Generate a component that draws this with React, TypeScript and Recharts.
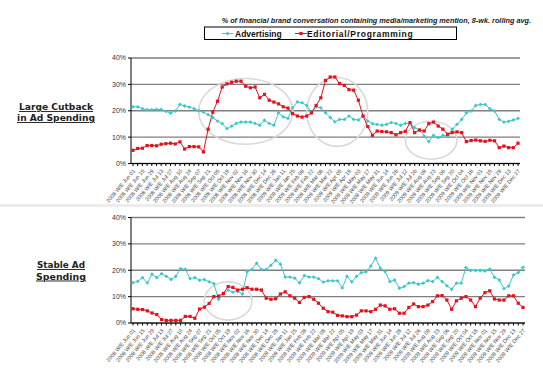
import React from 'react';
import { LineChart, Line, XAxis, YAxis, CartesianGrid, ReferenceArea } from 'recharts';

const weeks: string[] = [
  '2008 W/E Jun 01', '2008 W/E Jun 08', '2008 W/E Jun 15', '2008 W/E Jun 22', '2008 W/E Jun 29',
  '2008 W/E Jul 06', '2008 W/E Jul 13', '2008 W/E Jul 20', '2008 W/E Jul 27',
  '2008 W/E Aug 03', '2008 W/E Aug 10', '2008 W/E Aug 17', '2008 W/E Aug 24', '2008 W/E Aug 31',
  '2008 W/E Sep 07', '2008 W/E Sep 14', '2008 W/E Sep 21', '2008 W/E Sep 28',
  '2008 W/E Oct 05', '2008 W/E Oct 12', '2008 W/E Oct 19', '2008 W/E Oct 26',
  '2008 W/E Nov 02', '2008 W/E Nov 09', '2008 W/E Nov 16', '2008 W/E Nov 23', '2008 W/E Nov 30',
  '2008 W/E Dec 07', '2008 W/E Dec 14', '2008 W/E Dec 21', '2008 W/E Dec 28',
  '2009 W/E Jan 04', '2009 W/E Jan 11', '2009 W/E Jan 18', '2009 W/E Jan 25',
  '2009 W/E Feb 01', '2009 W/E Feb 08', '2009 W/E Feb 15', '2009 W/E Feb 22',
  '2009 W/E Mar 01', '2009 W/E Mar 08', '2009 W/E Mar 15', '2009 W/E Mar 22', '2009 W/E Mar 29',
  '2009 W/E Apr 05', '2009 W/E Apr 12', '2009 W/E Apr 19', '2009 W/E Apr 26',
  '2009 W/E May 03', '2009 W/E May 10', '2009 W/E May 17', '2009 W/E May 24', '2009 W/E May 31',
  '2009 W/E Jun 07', '2009 W/E Jun 14', '2009 W/E Jun 21', '2009 W/E Jun 28',
  '2009 W/E Jul 05', '2009 W/E Jul 12', '2009 W/E Jul 19', '2009 W/E Jul 26',
  '2009 W/E Aug 02', '2009 W/E Aug 09', '2009 W/E Aug 16', '2009 W/E Aug 23', '2009 W/E Aug 30',
  '2009 W/E Sep 06', '2009 W/E Sep 13', '2009 W/E Sep 20', '2009 W/E Sep 27',
  '2009 W/E Oct 04', '2009 W/E Oct 11', '2009 W/E Oct 18', '2009 W/E Oct 25',
  '2009 W/E Nov 01', '2009 W/E Nov 08', '2009 W/E Nov 15', '2009 W/E Nov 22', '2009 W/E Nov 29',
  '2009 W/E Dec 06', '2009 W/E Dec 13', '2009 W/E Dec 20', '2009 W/E Dec 27',
];

// Large Cutback in Ad Spending
const cutbackAdvertising: number[] = [
  21.5, 21.5, 20.8, 20.4, 20.4, 20.5, 20.5, 19.8, 19.1, 19.9,
  22.4, 21.8, 21.4, 20.8, 20, 19.5, 18.5, 17.4, 16.1, 15.1,
  13.2, 14.2, 15.2, 15.7, 15.7, 15.7, 15.2, 14.5, 16.4, 15.2,
  14.5, 19.2, 17.7, 17.1, 21.1, 23.4, 23, 22, 19.2, 21.5,
  21.1, 19.2, 17.4, 15.8, 16.7, 16.7, 18, 16.7, 16.5, 18,
  16.1, 15.1, 14.8, 14.5, 14.8, 15.5, 15.2, 14.5, 15.2, 15.2,
  13.6, 12.7, 10.4, 8.3, 10.7, 9.8, 10.7, 10.4, 13, 14.8,
  16.7, 19.2, 19.9, 22, 22.4, 22.4, 20.8, 19.9, 16.7, 15.7,
  16, 16.5, 17.1,
];
const cutbackEditorial: number[] = [
  5, 5.7, 5.8, 6.8, 6.8, 6.7, 7.3, 7.5, 7.7, 7.4,
  8.2, 5.5, 6.4, 6.4, 6.3, 4.4, 13, 19.5, 23.6, 29,
  30.2, 30.8, 31.2, 31.2, 29.3, 28.7, 29, 24.9, 26.2, 24,
  23.3, 22.6, 21.5, 21, 18.9, 18, 17.6, 18, 19.2, 22,
  24.9, 31.5, 32.8, 32.8, 30.3, 29.6, 28, 27.8, 24, 18,
  14, 10.7, 12.3, 12.1, 12, 11.7, 10.9, 11.7, 12.2, 15.5,
  11.7, 12.7, 12.3, 15.1, 15.7, 14.2, 13, 11.1, 11.7, 12,
  11.7, 8.3, 8.7, 8.9, 8.6, 8.4, 8.8, 8.6, 6, 6.6,
  6, 6, 7.7,
];

// Stable Ad Spending
const stableAdvertising: number[] = [
  15.3, 15.8, 17.2, 15.2, 18.5, 17.2, 18.7, 17.7, 16.5, 17.7,
  20.6, 20.4, 16.8, 17.2, 16.2, 16.5, 15.6, 14.9, 9, 11,
  12.5, 11.7, 12, 11, 19.4, 20.3, 22.7, 20.3, 20.3, 21.9,
  23.8, 22.3, 17.4, 17.4, 17, 15.2, 18, 17.4, 17.4, 16.8,
  15.5, 16, 16, 16, 13.3, 17.7, 15.6, 17.7, 19.1, 19.4,
  21.6, 24.6, 20.8, 19.5, 15.7, 16.3, 13.2, 13.8, 15.1, 15.3,
  14.7, 15.1, 16.1, 15.7, 17.3, 15.7, 14.1, 12.8, 15.1, 15.1,
  21, 19.9, 19.9, 19.9, 19.7, 20.4, 17.3, 16.3, 13, 14,
  18.2, 19.1, 21.1,
];
const stableEditorial: number[] = [
  5.4, 5.2, 5.1, 4.6, 3.8, 3.2, 1.3, 1, 1, 1,
  1, 2.5, 2.5, 1.8, 5.3, 6, 7.4, 10, 10.2, 11.2,
  13.8, 13.5, 12.5, 12.8, 13.4, 12.8, 12.8, 12.5, 9.4, 9,
  9.2, 11, 11.8, 10.3, 9.4, 7.8, 9.7, 10, 9, 7.5,
  5.6, 4.3, 4.1, 2.9, 2.7, 2.4, 2.4, 3, 4.6, 4.6,
  4.3, 5.2, 6.8, 6.5, 5.2, 5.4, 3.7, 3.7, 5.9, 7.2,
  6.2, 6.2, 6.8, 8.1, 10.3, 10.4, 8.7, 5.2, 8.4, 9.4,
  10, 8.7, 6.2, 9.4, 11.5, 12.2, 9.1, 8.7, 8.7, 10.3,
  10.3, 7.5, 5.9,
];

const yTicks: number[] = [0, 10, 20, 30, 40];

// highlight circles: [first week index, last week index, low %, high %]
const cutbackHighlights: number[][] = [
  [14, 34, 7.3, 32.2],
  [37, 50, 6.5, 32.6],
  [58, 69, 1.6, 16],
];
const stableHighlights: number[][] = [
  [15, 25, 1.1, 15.6],
];

const title = '% of financial brand conversation containing media/marketing mention, 8-wk. rolling avg.';
const seriesNames = ['Advertising', 'Editorial/Programming'];

const CYAN = '#3cc8c8';
const RED = '#e3121b';

const cutbackData = weeks.map((w, i) => ({ week: w, adv: cutbackAdvertising[i], ed: cutbackEditorial[i] }));
const stableData = weeks.map((w, i) => ({ week: w, adv: stableAdvertising[i], ed: stableEditorial[i] }));

const Diamond = (p: any) => {
  const { cx, cy, index } = p;
  if (cx == null || cy == null) return <g key={index} />;
  return (
    <path key={index} d={`M${cx},${cy - 1.9}L${cx + 1.9},${cy}L${cx},${cy + 1.9}L${cx - 1.9},${cy}Z`} fill={CYAN} />
  );
};
const Square = (p: any) => {
  const { cx, cy, index } = p;
  if (cx == null || cy == null) return <g key={index} />;
  return <rect key={index} x={cx - 1.6} y={cy - 1.6} width={3.2} height={3.2} fill={RED} />;
};

const XTick = (p: any) => {
  const { x, y, payload } = p;
  const idx = payload && payload.index != null ? payload.index : p.index;
  if (idx % 2 !== 0) return <g />;
  return (
    <g transform={`translate(${x + 1},${y + 2}) rotate(-50)`}>
      <text x={0} y={0} dy="0.35em" textAnchor="end" fontSize={5.4} fill="#444" fontFamily="Liberation Sans, Arial, sans-serif">
        {payload.value}
      </text>
    </g>
  );
};

const EllipseShape = (p: any) => {
  const { x, y, width, height } = p;
  return (
    <ellipse cx={x + width / 2} cy={y + height / 2} rx={Math.abs(width) / 2} ry={Math.abs(height) / 2}
      fill="none" stroke="#d9d9d9" strokeWidth={1.6} />
  );
};

const Panel = ({ data, highlights, height, marginTop, marginRight, xHeight }: any) => (
  <LineChart width={543} height={height} data={data} margin={{ top: marginTop, right: marginRight, left: 0, bottom: 0 }}>
    <CartesianGrid horizontal vertical={false} stroke="#7f7f7f" strokeWidth={1.4} />
    <XAxis dataKey="week" interval={0} tick={<XTick />} tickSize={2.5} height={xHeight}
      axisLine={{ stroke: '#000', strokeWidth: 1 }} tickLine={{ stroke: '#000' }} padding={{ left: 2, right: 2 }} />
    <YAxis width={131} domain={[0, 40]} ticks={yTicks} tickFormatter={(v: number) => `${v}%`} tickSize={3}
      axisLine={{ stroke: '#000' }} tickLine={{ stroke: '#000' }}
      tick={{ fontSize: 7, fill: '#333', fontFamily: 'Liberation Sans, Arial, sans-serif' }} />
    {highlights.map((h: number[], i: number) => (
      <ReferenceArea key={i} x1={weeks[h[0]]} x2={weeks[h[1]]} y1={h[2]} y2={h[3]} shape={<EllipseShape />} ifOverflow="visible" />
    ))}
    <Line dataKey="adv" stroke={CYAN} strokeWidth={1} dot={Diamond} isAnimationActive={false} />
    <Line dataKey="ed" stroke={RED} strokeWidth={1} dot={Square} isAnimationActive={false} />
  </LineChart>
);

export default function App() {
  const font = 'Liberation Sans, Arial, sans-serif';
  const sideFont = 'DejaVu Sans, Verdana, sans-serif';
  return (
    <div style={{ position: 'absolute', left: 0, top: 0, width: 543, height: 375, background: '#fff', overflow: 'hidden' }}>
      <svg width={543} height={375} style={{ position: 'absolute', left: 0, top: 0 }}>
        <rect x={0} y={204} width={543} height={3} fill="#ececec" />
        <text x={531} y={22.5} textAnchor="end" fontSize={7.3} fontWeight="bold" fontStyle="italic" fill="#222" fontFamily={font}>
          {title}
        </text>
        <rect x={204.5} y={27} width={252} height={12.5} fill="#fff" stroke="#000" strokeWidth={1} />
        <line x1={222} y1={33.5} x2={233} y2={33.5} stroke={CYAN} strokeWidth={1} />
        <path d="M227.5,31.6L229.4,33.5L227.5,35.4L225.6,33.5Z" fill={CYAN} />
        <text x={235} y={36.8} fontSize={8.5} fontWeight="bold" fill="#111" fontFamily={font}>
          {seriesNames[0]}
        </text>
        <line x1={295} y1={33.5} x2={307} y2={33.5} stroke={RED} strokeWidth={1} />
        <rect x={299.4} y={31.9} width={3.2} height={3.2} fill={RED} />
        <text x={307} y={36.8} fontSize={8.5} fontWeight="bold" fill="#111" fontFamily={font} letterSpacing={0.7}>
          {seriesNames[1]}
        </text>
        <text x={56} y={110} textAnchor="middle" fontSize={9.5} fontWeight="bold" fill="#222" fontFamily={sideFont} textDecoration="underline" textLength={74} lengthAdjust="spacingAndGlyphs">
          Large Cutback
        </text>
        <text x={56} y={121} textAnchor="middle" fontSize={9.5} fontWeight="bold" fill="#222" fontFamily={sideFont} textDecoration="underline" textLength={78} lengthAdjust="spacingAndGlyphs">
          in Ad Spending
        </text>
        <text x={61} y={268} textAnchor="middle" fontSize={9.5} fontWeight="bold" fill="#222" fontFamily={sideFont} textDecoration="underline" textLength={48} lengthAdjust="spacingAndGlyphs">
          Stable Ad
        </text>
        <text x={61} y={279.5} textAnchor="middle" fontSize={9.5} fontWeight="bold" fill="#222" fontFamily={sideFont} textDecoration="underline" textLength={50} lengthAdjust="spacingAndGlyphs">
          Spending
        </text>
      </svg>
      <div style={{ position: 'absolute', left: 0, top: 0 }}>
        <Panel data={cutbackData} highlights={cutbackHighlights} height={210} marginTop={58} marginRight={23} xHeight={46.5} />
      </div>
      <div style={{ position: 'absolute', left: 0, top: 205 }}>
        <Panel data={stableData} highlights={stableHighlights} height={170} marginTop={12.5} marginRight={18} xHeight={52} />
      </div>
    </div>
  );
}
